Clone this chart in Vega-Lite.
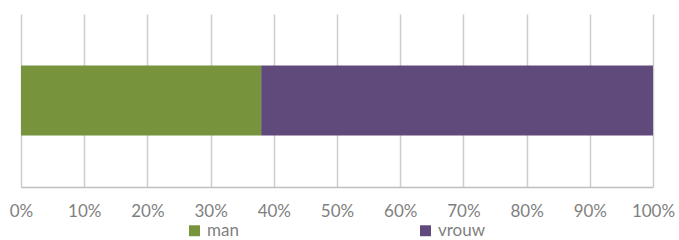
{
  "$schema": "https://vega.github.io/schema/vega-lite/v6.json",
  "width": 632,
  "height": 173,
  "autosize": {"type": "none"},
  "padding": {"left": 21, "top": 14, "right": 26, "bottom": 53},
  "background": "white",
  "config": {
    "view": {"stroke": null},
    "font": "Lato"
  },
  "data": {
    "values": [
      {"cat": "A", "geslacht": "man", "aandeel": 0.38},
      {"cat": "A", "geslacht": "vrouw", "aandeel": 0.62}
    ]
  },
  "mark": {"type": "bar"},
  "encoding": {
    "y": {
      "field": "cat",
      "type": "nominal",
      "axis": null,
      "scale": {"paddingInner": 0, "paddingOuter": 0.7357}
    },
    "x": {
      "field": "aandeel",
      "type": "quantitative",
      "stack": "zero",
      "scale": {"domain": [0, 1], "nice": false},
      "axis": {
        "title": null,
        "format": ".0%",
        "values": [0, 0.1, 0.2, 0.3, 0.4, 0.5, 0.6, 0.7, 0.8, 0.9, 1],
        "grid": true,
        "gridColor": "#cccccc",
        "gridWidth": 1.5,
        "domainColor": "#bfbfbf",
        "domainWidth": 1.5,
        "ticks": false,
        "labelFlush": false,
        "labelOverlap": false,
        "labelPadding": 16,
        "labelFontSize": 17,
        "labelColor": "#7f7f7f",
        "labelFont": "Lato"
      }
    },
    "color": {
      "field": "geslacht",
      "type": "nominal",
      "scale": {"domain": ["man", "vrouw"], "range": ["#77933c", "#604a7b"]},
      "legend": {
        "title": null,
        "orient": "none",
        "legendX": 165,
        "legendY": 208,
        "direction": "horizontal",
        "symbolType": "square",
        "symbolSize": 120,
        "symbolStrokeWidth": 0,
        "labelFontSize": 17,
        "labelColor": "#7f7f7f",
        "labelFont": "Lato",
        "labelOffset": 4,
        "columnPadding": 178
      }
    },
    "order": {"field": "geslacht", "sort": "ascending"}
  }
}
